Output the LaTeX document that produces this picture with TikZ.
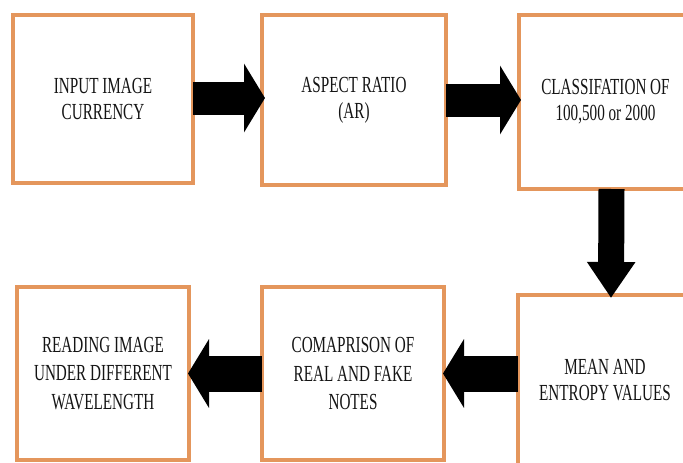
\documentclass[tikz,border=0pt]{standalone}
\usepackage{fontspec}
\newfontfamily\boxfont[FakeStretch=0.66]{Liberation Serif}
\usetikzlibrary{arrows.meta,calc}
\definecolor{boxorange}{RGB}{228,150,92}
\definecolor{txt}{RGB}{20,20,20}
\begin{document}
\begin{tikzpicture}[x=1pt,y=-1pt,
  flowbox/.style={draw=boxorange,line width=3.6pt,fill=white,rectangle,inner sep=0pt,outer sep=0pt,
    align=center,text=txt,font=\boxfont\fontsize{23}{26}\selectfont},
  lowbox/.style={flowbox,font=\boxfont\fontsize{23}{28.5}\selectfont},
  blockarrow/.style={draw=black,line width=33pt,-{Triangle[length=21pt,width=68pt]}},
  downarrow/.style={draw=black,line width=26pt,-{Triangle[length=36pt,width=46pt]}}]
\useasboundingbox (0,0) rectangle (683,463);
\begin{scope}
\clip (0,0) rectangle (683,463);
\node[flowbox,minimum width=180pt,minimum height=168pt] (b1) at (103,99) {INPUT IMAGE\\CURRENCY};
\node[flowbox,minimum width=184pt,minimum height=170pt] (b2) at (354,100) {ASPECT RATIO\\(AR)};
\node[flowbox,minimum width=173pt,minimum height=174pt] (b3) at (605.5,102) {CLASSIFATION OF\\100,500 or 2000};
\node[lowbox,minimum width=172pt,minimum height=173pt] (b4) at (103,373.5) {READING IMAGE\\UNDER DIFFERENT\\WAVELENGTH};
\node[lowbox,minimum width=182pt,minimum height=173pt] (b5) at (353,373.5) {COMAPRISON OF\\REAL AND FAKE\\NOTES};
\node[flowbox,minimum width=174pt,minimum height=175pt] (b6) at (605,382.5) {\raisebox{3pt}{\begin{tabular}{@{}c@{}}MEAN AND\\ENTROPY VALUES\end{tabular}}};
\draw[blockarrow,shorten >=-3pt] ($(b1.east)+(0,-1)$) -- ($(b2.west)+(0,-2)$);
\draw[blockarrow,shorten >=-2pt] (b2.east) -- ($(b3.west)+(0,-2)$);
\draw[downarrow,shorten >=-3pt] ($(b3.south)+(6,0)$) -- ($(b6.north)+(6,0)$);
\draw[blockarrow,line width=36pt,shorten >=-1pt] (b6.west |- b5.east) -- (b5.east);
\draw[blockarrow,line width=36pt,shorten >=-1pt] (b5.west) -- (b4.east);
\end{scope}
\end{tikzpicture}
\end{document}
